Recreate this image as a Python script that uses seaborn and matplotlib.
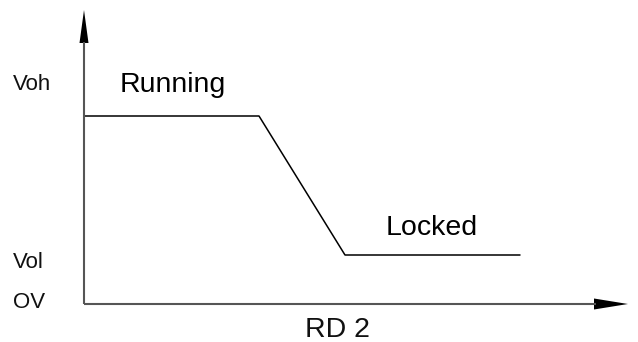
import matplotlib
matplotlib.use("Agg")
import matplotlib.pyplot as plt
import seaborn as sns
import pandas as pd

# Data (units: pixel offsets from the origin, y up)
phase_x = [1, 175, 261, 436]
phase_v = [188, 188, 49, 49]
level_labels = ["Voh", "Vol", "OV"]
level_pos = [220, 42, 2]
state_labels = ["Running", "Locked"]
xlabel_text = "RD 2"

sns.set_theme(style="white")
plt.rcParams['font.family'] = ['Liberation Sans', 'DejaVu Sans']

fig = plt.figure(figsize=(6.38, 3.42), dpi=100)
ax = fig.add_axes([0, 0, 1, 1])
ax.set_xlim(-84, 554)
ax.set_ylim(-38, 304)
ax.axis("off")

df = pd.DataFrame({"t": phase_x, "v": phase_v})
sns.lineplot(data=df, x="t", y="v", ax=ax, color="black", lw=1.1, sort=False, legend=False)

axis_col = "#555555"
# y axis
ax.plot([0, 0], [0, 262], color=axis_col, lw=1.5, solid_capstyle="butt")
ax.fill([-4.5, 4.5, 0], [261, 261, 294], color="black", lw=0)
# x axis
ax.plot([0, 512], [0, 0], color=axis_col, lw=1.5, solid_capstyle="butt")
ax.fill([510, 510, 544], [5.5, -5.5, 0], color="black", lw=0)

for lab, y in zip(level_labels, level_pos):
    ax.text(-71, y, lab, fontsize=16, ha="left", va="center", color="#111111")

ax.text(36, 219, state_labels[0], fontsize=20.5, ha="left", va="center", color="black")
ax.text(302, 76, state_labels[1], fontsize=20.5, ha="left", va="center", color="black")
ax.text(253, -26, xlabel_text, fontsize=20.5, ha="center", va="center", color="#111111")

fig.savefig("out.png", dpi=100)
